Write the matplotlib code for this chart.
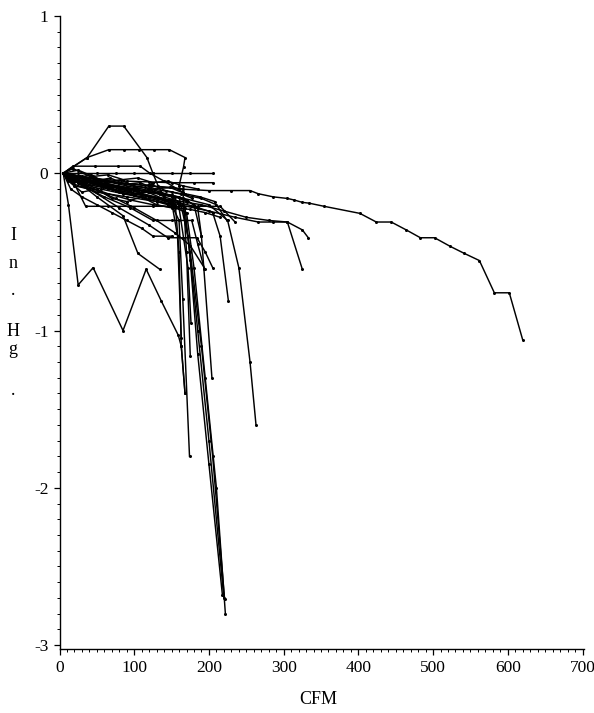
import matplotlib
matplotlib.use("Agg")
import matplotlib.pyplot as plt
from matplotlib.ticker import MultipleLocator

plt.rcParams['axes.unicode_minus'] = False
plt.rcParams['font.family'] = ['Liberation Serif', 'DejaVu Serif']

# ---- data (CFM, in. Hg) ----
cfm_01 = [5, 18, 45, 80, 120, 160, 200, 230, 255, 266, 286, 305, 314, 325, 334, 354, 402, 424, 444, 464, 483, 502, 523, 542, 562, 582, 602, 620]
hg_01 = [0, 0.03, -0.03, -0.06, -0.08, -0.10, -0.11, -0.11, -0.11, -0.13, -0.15, -0.16, -0.17, -0.185, -0.19, -0.21, -0.255, -0.31, -0.31, -0.36, -0.41, -0.41, -0.465, -0.51, -0.555, -0.76, -0.76, -1.06]
cfm_02 = [5, 37, 66, 86, 117, 125, 132, 140]
hg_02 = [0, 0.10, 0.30, 0.30, 0.10, 0.0, -0.08, -0.15]
cfm_03 = [5, 37, 66, 86, 106, 127, 147, 168, 166, 160]
hg_03 = [0, 0.10, 0.15, 0.15, 0.15, 0.15, 0.15, 0.10, 0.04, -0.08]
cfm_04 = [5, 18, 47, 78, 108, 121, 140, 165]
hg_04 = [0, 0.045, 0.045, 0.045, 0.045, 0.0, -0.05, -0.12]
cfm_05 = [5, 25, 50, 75, 100, 125, 150, 175, 206]
hg_05 = [0, 0.0, 0.0, 0.0, 0.0, 0.0, 0.0, 0.0, 0.0]
cfm_06 = [5, 30, 60, 90, 120, 150, 180, 206]
hg_06 = [0, -0.02, -0.04, -0.05, -0.055, -0.06, -0.06, -0.06]
cfm_07 = [5, 17, 35, 65, 95, 125, 155, 185, 215, 235]
hg_07 = [0, -0.04, -0.21, -0.21, -0.21, -0.21, -0.21, -0.21, -0.21, -0.31]
cfm_08 = [5, 30, 60, 95, 125, 150, 177, 185, 194]
hg_08 = [0, -0.08, -0.15, -0.22, -0.30, -0.30, -0.30, -0.45, -0.61]
cfm_09 = [5, 40, 80, 120, 145, 165, 184, 195, 205]
hg_09 = [0, -0.10, -0.22, -0.33, -0.41, -0.41, -0.41, -0.50, -0.60]
cfm_10 = [5, 12, 25, 45, 85, 116, 136, 159, 163, 168]
hg_10 = [0, -0.20, -0.71, -0.60, -1.00, -0.61, -0.81, -1.03, -1.10, -1.40]
cfm_11 = [5, 18, 50, 85, 105, 134]
hg_11 = [0, -0.03, -0.15, -0.27, -0.51, -0.61]
cfm_12 = [5, 40, 80, 120, 160, 200, 235, 266, 286, 305, 325, 333]
hg_12 = [0, -0.05, -0.10, -0.15, -0.20, -0.24, -0.28, -0.31, -0.31, -0.31, -0.36, -0.41]
cfm_13 = [5, 30, 70, 110, 150, 190, 220, 250, 280, 305, 325]
hg_13 = [0, -0.05, -0.10, -0.14, -0.17, -0.20, -0.24, -0.28, -0.30, -0.31, -0.61]
cfm_14 = [5, 30, 60, 90, 120, 150, 165, 175, 190, 205, 221]
hg_14 = [0, -0.05, -0.08, -0.10, -0.12, -0.15, -0.20, -0.50, -1.10, -1.80, -2.71]
cfm_15 = [5, 25, 55, 85, 115, 145, 170, 180, 195, 210, 222]
hg_15 = [0, -0.06, -0.10, -0.13, -0.16, -0.20, -0.25, -0.60, -1.30, -2.00, -2.80]
cfm_16 = [5, 35, 70, 105, 135, 160, 172, 185, 200, 220]
hg_16 = [0, -0.04, -0.08, -0.11, -0.13, -0.15, -0.40, -1.00, -1.70, -2.70]
cfm_17 = [5, 30, 65, 100, 130, 150, 160, 165, 174]
hg_17 = [0, -0.06, -0.10, -0.14, -0.17, -0.20, -0.30, -0.80, -1.80]
cfm_18 = [5, 40, 80, 120, 150, 165, 170, 175]
hg_18 = [0, -0.03, -0.06, -0.08, -0.09, -0.10, -0.50, -1.16]
cfm_19 = [5, 45, 90, 135, 165, 180, 190, 204]
hg_19 = [0, -0.05, -0.09, -0.13, -0.16, -0.20, -0.40, -1.30]
cfm_20 = [5, 50, 100, 150, 200, 225, 240, 255, 263]
hg_20 = [0, -0.04, -0.09, -0.14, -0.20, -0.30, -0.60, -1.20, -1.60]
cfm_21 = [5, 45, 95, 145, 180, 205, 215, 226]
hg_21 = [0, -0.06, -0.11, -0.17, -0.21, -0.25, -0.40, -0.81]
cfm_22 = [5, 20, 50, 90, 130, 155, 160, 163, 168]
hg_22 = [0, -0.07, -0.12, -0.15, -0.18, -0.20, -0.50, -1.10, -1.40]
cfm_23 = [5, 50, 100, 150, 190, 210, 224]
hg_23 = [0, -0.04, -0.08, -0.12, -0.16, -0.20, -0.30]
cfm_24 = [5, 15, 35, 55, 75, 95, 115, 135, 155, 170]
hg_24 = [0, -0.02, -0.06, -0.05, -0.08, -0.10, -0.09, -0.12, -0.15, -0.18]
cfm_25 = [5, 20, 40, 60, 80, 100, 120, 140, 160]
hg_25 = [0, -0.08, -0.10, -0.07, -0.12, -0.14, -0.10, -0.15, -0.18]
cfm_26 = [5, 12, 30, 50, 70, 90, 110, 130, 150]
hg_26 = [0, -0.05, -0.12, -0.10, -0.16, -0.18, -0.15, -0.20, -0.22]
cfm_27 = [5, 25, 45, 65, 85, 105, 125, 145, 165, 185]
hg_27 = [0, 0.02, -0.02, -0.01, -0.04, -0.03, -0.06, -0.05, -0.08, -0.10]
cfm_28 = [5, 15, 30, 50, 70, 90, 110, 125, 150]
hg_28 = [0, -0.10, -0.15, -0.20, -0.25, -0.30, -0.35, -0.40, -0.40]
cfm_29 = [5, 20, 45, 75, 100, 130, 155, 175, 195]
hg_29 = [0, -0.05, -0.10, -0.16, -0.22, -0.30, -0.38, -0.46, -0.61]
cfm_30 = [5, 30, 60, 90, 120, 150, 170, 185, 190]
hg_30 = [0, -0.03, -0.07, -0.09, -0.12, -0.14, -0.17, -0.22, -0.40]
cfm_31 = [5, 25, 50, 80, 110, 140, 160, 172, 176]
hg_31 = [0, -0.04, -0.07, -0.11, -0.14, -0.17, -0.22, -0.60, -0.95]
cfm_32 = [5, 22, 42, 62, 82, 102, 122, 142, 162, 178]
hg_32 = [0, -0.03, -0.01, -0.06, -0.04, -0.09, -0.07, -0.11, -0.13, -0.16]
cfm_33 = [5, 18, 38, 58, 78, 98, 118, 138, 158, 168, 175, 185, 200, 218]
hg_33 = [0, -0.06, -0.04, -0.09, -0.08, -0.13, -0.12, -0.16, -0.19, -0.22, -0.55, -1.15, -1.85, -2.68]
cfm_34 = [5, 28, 48, 68, 88, 108, 128, 148, 168, 188, 208]
hg_34 = [0, -0.02, -0.05, -0.03, -0.07, -0.06, -0.10, -0.09, -0.13, -0.15, -0.18]
cfm_35 = [5, 15, 35, 55, 75, 95, 115, 135, 150, 158, 163]
hg_35 = [0, -0.04, -0.08, -0.07, -0.11, -0.10, -0.14, -0.16, -0.18, -0.40, -1.05]
cfm_36 = [5, 35, 65, 95, 125, 155, 175, 195, 215]
hg_36 = [0, -0.08, -0.13, -0.17, -0.20, -0.22, -0.23, -0.25, -0.28]

series = [
    (cfm_01, hg_01), (cfm_02, hg_02), (cfm_03, hg_03), (cfm_04, hg_04),
    (cfm_05, hg_05), (cfm_06, hg_06), (cfm_07, hg_07), (cfm_08, hg_08),
    (cfm_09, hg_09), (cfm_10, hg_10), (cfm_11, hg_11), (cfm_12, hg_12),
    (cfm_13, hg_13), (cfm_14, hg_14), (cfm_15, hg_15), (cfm_16, hg_16),
    (cfm_17, hg_17), (cfm_18, hg_18), (cfm_19, hg_19), (cfm_20, hg_20),
    (cfm_21, hg_21), (cfm_22, hg_22), (cfm_23, hg_23), (cfm_24, hg_24),
    (cfm_25, hg_25), (cfm_26, hg_26), (cfm_27, hg_27), (cfm_28, hg_28),
    (cfm_29, hg_29), (cfm_30, hg_30), (cfm_31, hg_31), (cfm_32, hg_32),
    (cfm_33, hg_33), (cfm_34, hg_34), (cfm_35, hg_35), (cfm_36, hg_36),
]

x_ticks = [0, 100, 200, 300, 400, 500, 600, 700]
y_ticks = [-3, -2, -1, 0, 1]

fig = plt.figure(figsize=(5.94, 7.13), dpi=100)
ax = fig.add_axes([59.5 / 594, 64 / 713, (584 - 59.5) / 594, (649 - 16) / 713])

for xs, ys in series:
    ax.plot(xs, ys, color='black', linewidth=1.05, marker='o', markersize=2.2,
            markerfacecolor='black', markeredgewidth=0)

ax.set_xlim(0, 702)
ax.set_ylim(-3.025, 1.0)
for s in ['top', 'right']:
    ax.spines[s].set_visible(False)
for s in ['left', 'bottom']:
    ax.spines[s].set_linewidth(1.0)

ax.set_xticks(x_ticks)
ax.set_yticks(y_ticks)
ax.set_xticklabels([str(v) for v in x_ticks])
ax.set_yticklabels([str(v) for v in y_ticks])
ax.xaxis.set_minor_locator(MultipleLocator(10))
ax.yaxis.set_minor_locator(MultipleLocator(0.1))
ax.tick_params(axis='both', which='major', direction='out', length=4, width=0.9,
               labelsize=12.5, pad=4)
ax.tick_params(axis='both', which='minor', direction='out', length=2, width=0.7)

ylabel_chars = ['I', 'n', '.', 'H', 'g', '.']
ylabel_pos = [235, 263, 290, 331, 349, 390]
for ch, py in zip(ylabel_chars, ylabel_pos):
    fig.text(13 / 594, 1 - py / 713, ch, ha='center', va='center', fontsize=13)

fig.text(318 / 594, 1 - 700 / 713, 'CFM', ha='center', va='center', fontsize=13)

fig.savefig('out.png', dpi=100)
